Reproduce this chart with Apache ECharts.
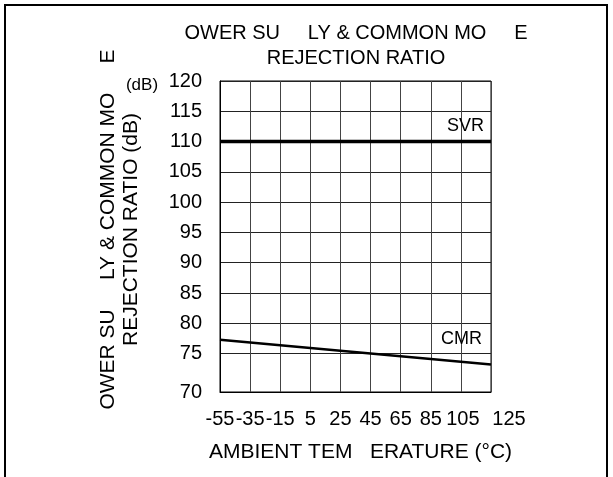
<!DOCTYPE html>
<html>
<head>
<meta charset="utf-8">
<script src="https://cdn.jsdelivr.net/npm/echarts@6/dist/echarts.min.js"></script>
<style>
  html, body { margin: 0; padding: 0; background: #fff; }
  #chart { width: 613px; height: 477px; }
</style>
</head>
<body>
<div id="chart"></div>
<script>
// ---- data ----
const xTickValues = [-55, -35, -15, 5, 25, 45, 65, 85, 105, 125];
const yTickValues = [75, 80, 85, 90, 95, 100, 105, 110, 115, 120];
const yBottomLabel = '70';          // label printed at the bottom edge of the plot
const yAxisMin = 68.66;             // bottom edge of the plot on the dB scale
const yAxisMax = 120;
const svrTemps = [-55, 125];
const svrValues = [110, 110];
const cmrTemps = [-55, 125];
const cmrValues = [77.3, 73.2];
const titleLines = ['OWER SU     LY & COMMON MO     E', 'REJECTION RATIO'];
const yNameLines = ['OWER SU     LY & COMMON MO     E', 'REJECTION RATIO (dB)'];
const xName = 'AMBIENT TEM   ERATURE (°C)';
const yUnit = '(dB)';

const FONT = "'Liberation Sans', Arial, sans-serif";
const chart = echarts.init(document.getElementById('chart'), null, { renderer: 'canvas' });

const pairs = (xs, ys) => xs.map((x, i) => [x, ys[i]]);
const labelFont = { fontSize: 20, fontFamily: FONT, color: '#000' };
const xMin = xTickValues[0];
const xMax = xTickValues[xTickValues.length - 1];
const xInnerLabels = xTickValues.slice(0, -1);
const xLastLabel = xTickValues.slice(-1);

const option = {
  backgroundColor: '#fff',
  animation: false,
  textStyle: { fontFamily: FONT, color: '#000' },
  grid: {
    left: 220, top: 81, width: 271, height: 311,
    show: true, borderColor: '#000', borderWidth: 1, backgroundColor: 'transparent'
  },
  xAxis: [
    {
      type: 'value',
      min: xMin,
      max: xMax,
      name: xName,
      nameLocation: 'middle',
      nameGap: 50,
      nameTextStyle: { fontSize: 21, fontFamily: FONT, color: '#000', lineHeight: 21, padding: [0, 0, 0, 10] },
      axisLine: { show: true, onZero: false, lineStyle: { color: '#000', width: 1 } },
      axisTick: { show: false, customValues: xTickValues },
      axisLabel: {
        customValues: xInnerLabels,
        formatter: v => (v === 105 ? '{a|' + v + '}' : '{n|' + v + '}'),
        rich: {
          n: Object.assign({}, labelFont),
          a: Object.assign({ padding: [0, 0, 0, 4] }, labelFont)
        },
        fontSize: 20, fontFamily: FONT, color: '#000', margin: 17, lineHeight: 20,
        showMinLabel: true, showMaxLabel: true, hideOverlap: false
      },
      splitLine: { show: true, lineStyle: { color: '#444', width: 1 } }
    },
    {
      type: 'value',
      position: 'bottom',
      min: xMin,
      max: xMax,
      axisLine: { show: false, onZero: false },
      axisTick: { show: false, customValues: xLastLabel },
      splitLine: { show: false },
      axisLabel: {
        customValues: xLastLabel,
        formatter: v => '{b|' + v + '}',
        rich: { b: Object.assign({ padding: [0, 0, 0, 36] }, labelFont) },
        fontSize: 20, fontFamily: FONT, color: '#000', margin: 17, lineHeight: 20,
        showMinLabel: true, showMaxLabel: true, hideOverlap: false
      }
    }
  ],
  yAxis: {
    type: 'value',
    min: yAxisMin,
    max: yAxisMax,
    name: yNameLines.join('\n'),
    nameLocation: 'middle',
    nameRotate: 90,
    nameGap: 77,
    nameTextStyle: { fontSize: 21, fontFamily: FONT, color: '#000', lineHeight: 23, padding: [0, 0, 0, 14] },
    axisLine: { show: true, onZero: false, lineStyle: { color: '#000', width: 1 } },
    axisTick: { show: false, customValues: yTickValues },
    axisLabel: {
      customValues: [yAxisMin].concat(yTickValues),
      formatter: v => (Math.abs(v - yAxisMin) < 1e-6 ? yBottomLabel : String(v)),
      fontSize: 20, fontFamily: FONT, color: '#000', margin: 18,
      showMinLabel: true, showMaxLabel: true, hideOverlap: false
    },
    splitLine: { show: true, lineStyle: { color: '#222', width: 1 } }
  },
  series: [
    {
      name: 'SVR',
      type: 'line',
      xAxisIndex: 0,
      data: pairs(svrTemps, svrValues),
      symbol: 'none',
      lineStyle: { color: '#000', width: 3.5 },
      endLabel: {
        show: true, formatter: '{a}', fontSize: 18, fontFamily: FONT, color: '#000',
        align: 'right', offset: [-15, -16]
      },
      z: 5
    },
    {
      name: 'CMR',
      type: 'line',
      xAxisIndex: 0,
      data: pairs(cmrTemps, cmrValues),
      symbol: 'none',
      lineStyle: { color: '#000', width: 2.5 },
      endLabel: {
        show: true, formatter: '{a}', fontSize: 18, fontFamily: FONT, color: '#000',
        align: 'right', offset: [-17, -25]
      },
      z: 5
    }
  ],
  graphic: [
    {
      type: 'rect', silent: true, z: 100,
      shape: { x: 5, y: 5, width: 602, height: 520 },
      style: { fill: 'none', stroke: '#000', lineWidth: 2 }
    },
    {
      type: 'text', silent: true,
      x: 356, y: 21.5,
      style: {
        text: titleLines.join('\n'), fill: '#000', font: '20px ' + FONT,
        align: 'center', verticalAlign: 'top', lineHeight: 24.7
      }
    },
    {
      type: 'text', silent: true,
      x: 142, y: 85,
      style: {
        text: yUnit, fill: '#000', font: '17px ' + FONT,
        align: 'center', verticalAlign: 'middle'
      }
    }
  ]
};
chart.setOption(option);
</script>
</body>
</html>
